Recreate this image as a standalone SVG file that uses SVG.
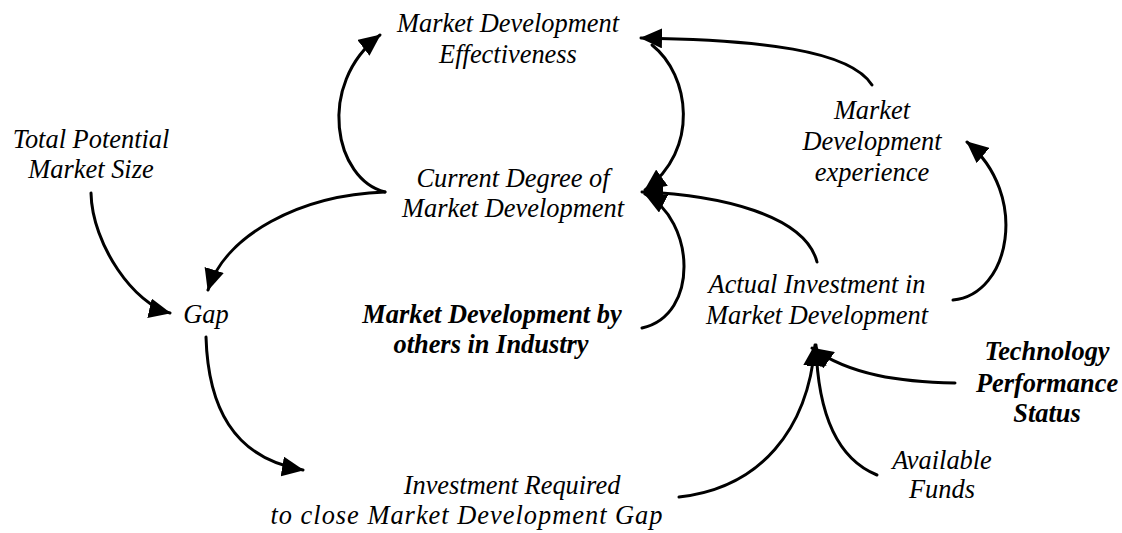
<svg xmlns="http://www.w3.org/2000/svg" width="1122" height="533" viewBox="0 0 1122 533">
<style>
text{font-family:"Liberation Serif","Times New Roman",serif;font-style:italic;font-size:26.4px;fill:#000;text-anchor:middle}
.b{font-weight:bold}
.c{fill:none;stroke:#000;stroke-width:3;stroke-linecap:round;marker-end:url(#ah)}
</style>
<defs>
<marker id="ah" viewBox="0 0 22 20" refX="21" refY="10" markerWidth="22" markerHeight="20" markerUnits="userSpaceOnUse" orient="auto">
<path d="M0,0 L22,10 L0,20 Z" fill="#000"/>
</marker>
</defs>
<rect width="1122" height="533" fill="#fff"/>
<g id="connectors">
<path class="c" d="M385,192 C335,180 315,85 380,35"/>
<path class="c" d="M385,192 C300,195 225,235 208,290"/>
<path class="c" d="M91,193 C92,245 135,305 170,313"/>
<path class="c" d="M206,337 C208,405 232,458 303,470"/>
<path class="c" d="M679,497 C760,488 808,430 815,345"/>
<path class="c" d="M877,475 C840,460 818,420 816,345"/>
<path class="c" d="M955,383 C900,382 850,375 812,348"/>
<path class="c" d="M817,262 C805,215 720,195 642,192"/>
<path class="c" d="M642,328 C700,315 695,220 645,194"/>
<path class="c" d="M652,45 C690,75 700,150 645,190"/>
<path class="c" d="M872,85 C850,50 760,40 641,38"/>
<path class="c" d="M953,300 C1010,295 1030,195 967,142"/>
</g>
<g id="effectiveness"><text x="508" y="32">Market Development</text><text x="508" y="63">Effectiveness</text></g>
<g id="total"><text x="91" y="148">Total Potential</text><text x="91" y="178">Market Size</text></g>
<g id="current"><text x="513" y="187">Current Degree of</text><text x="513" y="217">Market Development</text></g>
<g id="experience"><text x="872" y="119">Market</text><text x="872" y="150">Development</text><text x="872" y="181">experience</text></g>
<g id="gap"><text x="206" y="323">Gap</text></g>
<g id="others"><text class="b" x="492" y="323">Market Development by</text><text class="b" x="491" y="353">others in Industry</text></g>
<g id="actual"><text x="817" y="293">Actual Investment in</text><text x="817" y="324">Market Development</text></g>
<g id="technology"><text class="b" x="1047" y="360">Technology</text><text class="b" x="1047" y="392">Performance</text><text class="b" x="1047" y="422">Status</text></g>
<g id="funds"><text x="942" y="469">Available</text><text x="942" y="498">Funds</text></g>
<g id="required"><text x="512" y="494">Investment Required</text><text x="467" y="524" style="letter-spacing:1px">to close Market Development Gap</text></g>
</svg>
